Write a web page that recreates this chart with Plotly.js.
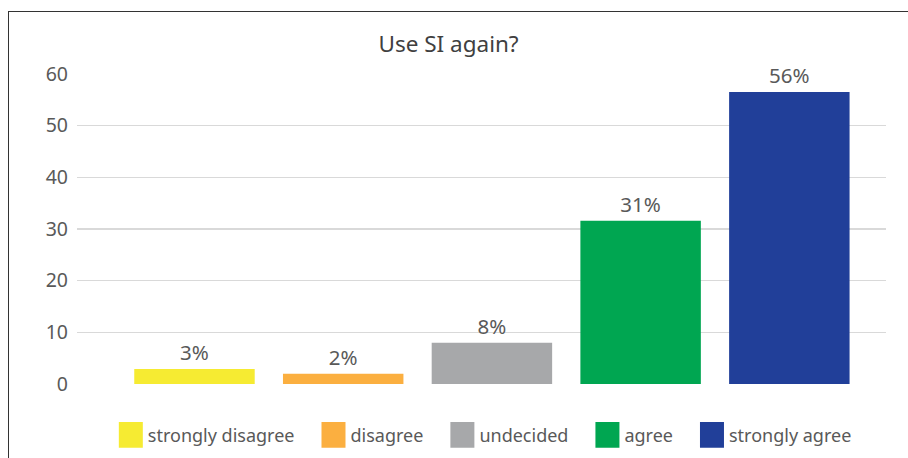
<!DOCTYPE html>
<html>
<head>
<meta charset="utf-8">
<script src="https://cdn.plot.ly/plotly-3.0.1.min.js"></script>
<style>
  html, body { margin: 0; padding: 0; background: #fff; }
  #wrap { position: relative; width: 908px; height: 458px; overflow: hidden; }
  #chart { position: absolute; left: 0; top: 0; width: 908px; height: 458px; }
  #frame { position: absolute; left: 8px; top: 11px; width: 920px; height: 460px;
           border-left: 1.5px solid #333; border-top: 1.5px solid #333; pointer-events: none; }
</style>
</head>
<body>
<div id="wrap">
  <div id="chart"></div>
  <div id="frame"></div>
</div>
<script>
const categories = ["strongly disagree", "disagree", "undecided", "agree", "strongly agree"];
const values = [2.9, 2.0, 8.0, 31.6, 56.5];
const labels = ["3%", "2%", "8%", "31%", "56%"];
const colors = ["#F6EB32", "#FBAF40", "#A7A8AA", "#00A651", "#213F99"];
const yTicks = [0, 10, 20, 30, 40, 50, 60];

const font = "'Noto Sans', 'Open Sans', sans-serif";

const traces = categories.map((c, i) => ({
  type: "bar",
  name: c,
  x: [c],
  y: [values[i]],
  text: [labels[i]],
  textposition: "outside",
  cliponaxis: false,
  textfont: { family: font, size: 20.5, color: "#595959" },
  marker: { color: colors[i], line: { width: 0 } },
  width: 0.81,
  hoverinfo: "skip"
}));

const layout = {
  width: 908,
  height: 458,
  margin: { l: 77, r: 22, t: 74, b: 74, autoexpand: false },
  paper_bgcolor: "#ffffff",
  plot_bgcolor: "#ffffff",
  barmode: "overlay",
  title: {
    text: "Use SI again?",
    font: { family: font, size: 22.5, color: "#404040" },
    x: 0.494, xanchor: "center",
    y: 0.904, yanchor: "middle", yref: "container"
  },
  xaxis: {
    type: "category",
    categoryorder: "array",
    categoryarray: categories,
    range: [-0.79, 4.65],
    showticklabels: false,
    showgrid: false,
    zeroline: false,
    showline: false,
    ticks: ""
  },
  yaxis: {
    range: [0, 60],
    tickvals: yTicks,
    ticktext: yTicks.map(String),
    showgrid: true,
    gridcolor: "#D9D9D9",
    gridwidth: 1.5,
    zeroline: false,
    showline: false,
    ticks: "",
    ticklabelstandoff: 8,
    tickfont: { family: font, size: 19.5, color: "#595959" }
  },
  showlegend: true,
  legend: {
    orientation: "h",
    x: 0.0245, xanchor: "left",
    y: -0.165, yanchor: "middle",
    font: { family: font, size: 18, color: "#595959" },
    itemwidth: 41,
    traceorder: "normal"
  }
};

Plotly.newPlot("chart", traces, layout, { displayModeBar: false, staticPlot: true }).then(gd => {
  // enlarge the legend swatches to match the reference's square keys
  gd.querySelectorAll(".legendpoints path").forEach(p => {
    p.setAttribute("transform", "translate(34,0) scale(2,2.15)");
  });
});
</script>
</body>
</html>
